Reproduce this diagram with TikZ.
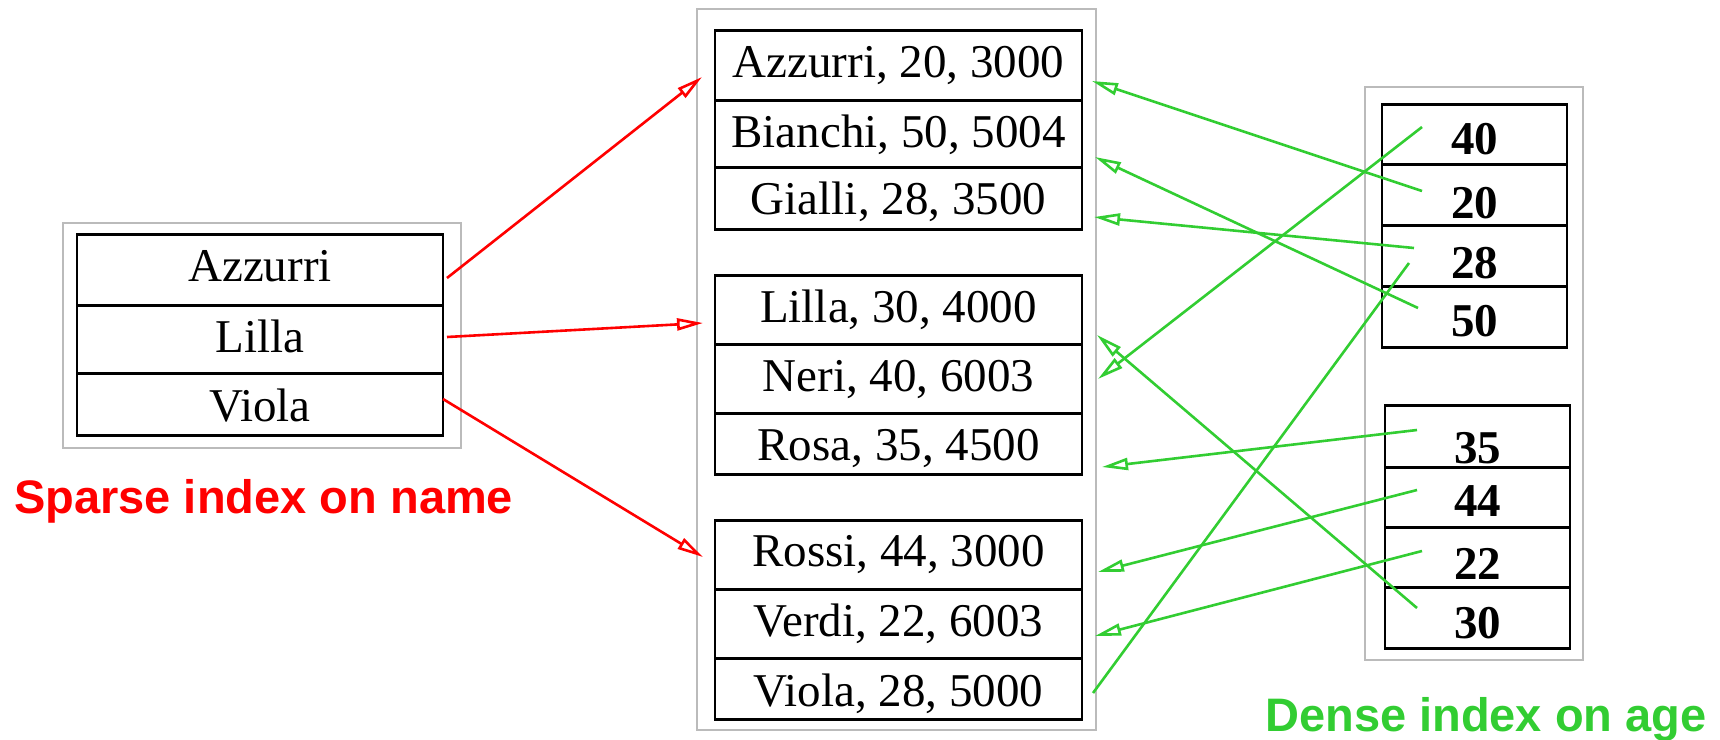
\documentclass[tikz,border=0pt]{standalone}
\usepackage{fontspec}
\setmainfont{Liberation Serif}
\newfontfamily\labelfont{Liberation Sans}
\usetikzlibrary{arrows.meta}
\definecolor{framegray}{RGB}{187,187,187}
\definecolor{idxgreen}{RGB}{50,205,50}
\definecolor{idxred}{RGB}{255,0,0}
\begin{document}
\begin{tikzpicture}[x=1pt,y=-1pt,
  frame/.style={draw=framegray, line width=2.2pt},
  cell/.style={draw, line width=2.5pt, inner sep=0pt, anchor=north, text height=47pt,
    font=\fontsize{47}{50}\selectfont},
  midcell/.style={cell, minimum width=367pt},
  leftcell/.style={cell, minimum width=366pt},
  numcell/.style={cell, minimum width=185pt, font=\fontsize{47}{50}\selectfont\bfseries},
  redarrow/.style={draw=idxred, line width=2.6pt, -{Triangle[open, length=26pt, width=12pt]}},
  greenarrow/.style={draw=idxgreen, line width=2.6pt, -{Triangle[open, length=26pt, width=12pt]}},
  greenline/.style={draw=idxgreen, line width=2.6pt},
  caption/.style={anchor=base west, inner sep=0pt, font=\labelfont\bfseries\fontsize{47}{50}\selectfont}
]
\useasboundingbox (0,0) rectangle (1720,739);

% gray frames
\draw[frame] (63,223) rectangle (461,448);
\draw[frame] (697,9) rectangle (1096,730);
\draw[frame] (1365,87) rectangle (1583,660);

% sparse index (left)
\node[leftcell, text depth=24pt] (sAz) at (260,233) {Azzurri};
\node[leftcell, text depth=21pt] (sLi) at (260,304) {Lilla};
\node[leftcell, text height=48pt, text depth=14pt] (sVi) at (260,372) {Viola};

% data file (middle)
\node[midcell, text depth=23pt] (dAz) at (898.5,29) {Azzurri, 20, 3000};
\node[midcell, text depth=20pt] (dBi) at (898.5,99) {Bianchi, 50, 5004};
\node[midcell, text depth=15pt] (dGi) at (898.5,166) {Gialli, 28, 3500};
\node[midcell, text depth=22pt] (dLi) at (898.5,274) {Lilla, 30, 4000};
\node[midcell, text depth=22pt] (dNe) at (898.5,343) {Neri, 40, 6003};
\node[midcell, text depth=14pt] (dRo) at (898.5,412) {Rosa, 35, 4500};
\node[midcell, text height=46pt, text depth=23pt] (dRs) at (898.5,519) {Rossi, 44, 3000};
\node[midcell, text depth=22pt] (dVe) at (898.5,588) {Verdi, 22, 6003};
\node[midcell, text height=48pt, text depth=13pt] (dVi) at (898.5,657) {Viola, 28, 5000};

% dense index (right)
\node[numcell, text height=50pt, text depth=10pt] (n40) at (1474.5,103) {40};
\node[numcell, text height=54pt, text depth=7pt] (n20) at (1474.5,163) {20};
\node[numcell, text height=53pt, text depth=8pt] (n28) at (1474.5,224) {28};
\node[numcell, text height=50pt, text depth=11pt] (n50) at (1474.5,285) {50};
\node[numcell, text height=58pt, text depth=4pt] (n35) at (1477.5,404) {35};
\node[numcell, text height=49pt, text depth=11pt] (n44) at (1477.5,466) {44};
\node[numcell, text height=52pt, text depth=8pt] (n22) at (1477.5,526) {22};
\node[numcell, text height=51pt, text depth=10pt] (n30) at (1477.5,586) {30};

% captions
\node[caption, text=idxred] (capS) at (14,513) {Sparse index on name};
\node[caption, text=idxgreen] (capD) at (1265,731) {Dense index on age};

% connector end points
\coordinate (rsAz) at (447,278);  \coordinate (rtAz) at (702,77);
\coordinate (rsLi) at (447,337);  \coordinate (rtLi) at (703,323);
\coordinate (rsVi) at (443,399);  \coordinate (rtVi) at (703,557);

\coordinate (g40) at (1422,127);  \coordinate (gtNe) at (1098,379);
\coordinate (g20) at (1422,191);  \coordinate (gtAz) at (1092,81);
\coordinate (g28) at (1414,248);  \coordinate (gtGi) at (1094,217);
\coordinate (g50) at (1418,308);  \coordinate (gtBi) at (1095,157);
\coordinate (g28b) at (1409,263); \coordinate (gtVi) at (1093,693);
\coordinate (g30) at (1417,608);  \coordinate (gtLi) at (1097,335);
\coordinate (g35) at (1417,430);  \coordinate (gtRo) at (1102,467);
\coordinate (g44) at (1417,490);  \coordinate (gtRs) at (1098,572);
\coordinate (g22) at (1422,551);  \coordinate (gtVe) at (1095,636);

% sparse index pointers
\draw[redarrow] (rsAz) -- (rtAz);
\draw[redarrow] (rsLi) -- (rtLi);
\draw[redarrow] (rsVi) -- (rtVi);

% dense index pointers
\draw[greenarrow] (g40) -- (gtNe);
\draw[greenarrow] (g20) -- (gtAz);
\draw[greenarrow] (g28) -- (gtGi);
\draw[greenarrow] (g50) -- (gtBi);
\draw[greenline] (g28b) -- (gtVi);
\draw[greenarrow] (g30) -- (gtLi);
\draw[greenarrow] (g35) -- (gtRo);
\draw[greenarrow] (g44) -- (gtRs);
\draw[greenarrow] (g22) -- (gtVe);
\end{tikzpicture}
\end{document}
